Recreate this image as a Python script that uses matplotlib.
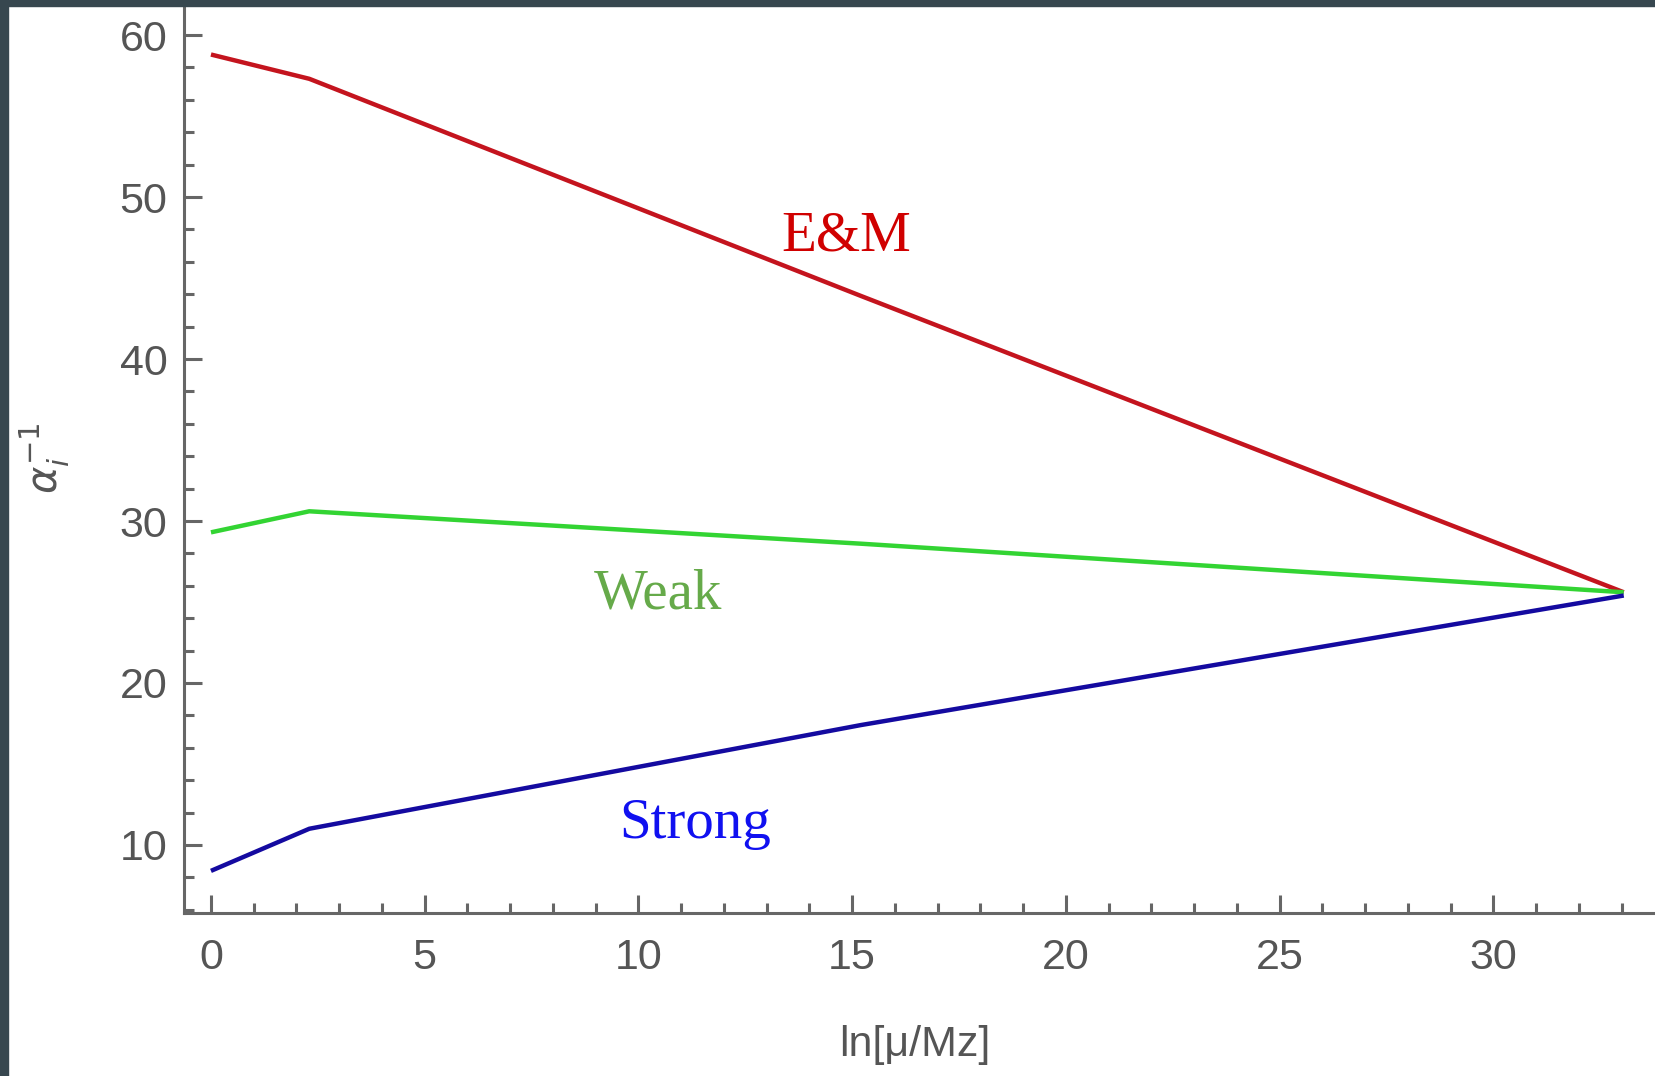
import matplotlib
matplotlib.use("Agg")
import matplotlib.pyplot as plt
from matplotlib.patches import Rectangle
from matplotlib.ticker import MultipleLocator

# ln(mu/Mz) and the three inverse couplings
scale = [0, 2.3, 15.2, 33.05]
em_inv = [58.8, 57.3, 43.9, 25.6]
weak_inv = [29.3, 30.6, 28.6, 25.6]
strong_inv = [8.4, 11.0, 17.4, 25.4]

labels = ["E&M", "Weak", "Strong"]
label_x = [14.85, 10.45, 11.33]
label_y = [46.7, 24.6, 10.4]

axis_grey = "#666666"
text_grey = "#555555"

fig = plt.figure(figsize=(16.55, 10.76), dpi=100)
ax = fig.add_axes([0.1112, 0.1515, 0.888, 0.843])

ax.plot(scale, em_inv, color="#c4141e", lw=3.2, solid_capstyle="butt")
ax.plot(scale, weak_inv, color="#33d433", lw=3.2, solid_capstyle="butt")
ax.plot(scale, strong_inv, color="#140aa0", lw=3.2, solid_capstyle="butt")

text_colors = ["#d00000", "#66aa4a", "#1010f0"]
for name, tx, ty, c in zip(labels, label_x, label_y, text_colors):
    ax.text(tx, ty, name, color=c, fontsize=41, family="Liberation Serif",
            ha="center", va="baseline")

ax.set_xlim(-0.63, 33.75)
ax.set_ylim(5.8, 61.8)

for side in ["top", "right"]:
    ax.spines[side].set_visible(False)
for side in ["left", "bottom"]:
    ax.spines[side].set_color(axis_grey)
    ax.spines[side].set_linewidth(2.2)

ax.xaxis.set_major_locator(MultipleLocator(5))
ax.xaxis.set_minor_locator(MultipleLocator(1))
ax.yaxis.set_major_locator(MultipleLocator(10))
ax.yaxis.set_minor_locator(MultipleLocator(2))

ax.tick_params(which="both", direction="in", color=axis_grey, width=2.2)
ax.tick_params(which="major", length=13, labelsize=31, labelcolor=text_grey)
ax.tick_params(which="minor", length=7)
ax.tick_params(axis="x", which="major", pad=18)
ax.tick_params(axis="y", which="major", pad=12)
for lab in ax.get_xticklabels() + ax.get_yticklabels():
    lab.set_family("Liberation Sans")

ax.set_xlabel("ln[μ/Mz]", fontsize=31, color=text_grey, family="Liberation Sans")
ax.xaxis.set_label_coords(0.497, -0.124)
ax.set_ylabel(r"$\alpha_i^{-1}$", fontsize=30, color=text_grey)
ax.yaxis.set_label_coords(-0.076, 0.502)

# dark frame strips on the left and top edge
fig.patches.append(Rectangle((0, 0), 8 / 1655, 1, transform=fig.transFigure,
                             color="#37474f", zorder=10))
fig.patches.append(Rectangle((0, 1 - 6 / 1076), 1, 6 / 1076,
                             transform=fig.transFigure, color="#37474f", zorder=10))

fig.savefig("out.png", dpi=100)
